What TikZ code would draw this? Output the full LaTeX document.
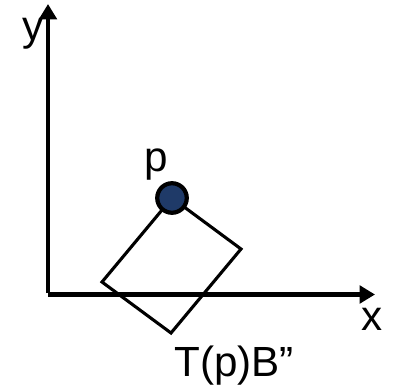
\documentclass[tikz,border=0pt]{standalone}
\usepackage{fontspec}
\setmainfont{Liberation Sans}
\usepackage{xcolor}
\usetikzlibrary{arrows.meta}
\definecolor{pointblue}{RGB}{31,58,104}
\tikzset{
  line cap=butt,
  line join=miter,
  axis/.style={line width=3.2pt, -{Triangle[length=11pt,width=12.5pt]}},
  boxline/.style={line width=2.2pt},
  point/.style={circle, draw, fill=pointblue, line width=3pt, inner sep=0pt, minimum size=21pt},
  lbl/.style={anchor=base, inner sep=0pt, font=\fontsize{30}{36}\selectfont}
}
\begin{document}
\begin{tikzpicture}[x=0.025cm, y=-0.025cm]
\useasboundingbox (0,0) rectangle (393,392);

% 좌표축
\coordinate (O) at (48,294.5);
\coordinate (xend) at (375,294.5);
\coordinate (yend) at (48,4);
\draw[axis] (O) -- (xend);
\draw[axis] ([yshift=1pt]O) -- (yend);

% 사각형
\coordinate (top) at (172,198);
\coordinate (right) at (241,249);
\coordinate (bottom) at (171,333);
\coordinate (left) at (102,282);
\draw[boxline] (top) -- (right) -- (bottom) -- (left) -- cycle;

% 점 p
\node[point] (p) at (top) {};

% 레이블
\node[lbl] (ylabel) at (33.5,41) {y};
\node[lbl] (xlabel) at (372.5,330) {x};
\node[lbl] (plabel) at (156.5,172) {p};
\node[lbl] (tlabel) at (234,376) {T(p)B''};

\end{tikzpicture}
\end{document}
